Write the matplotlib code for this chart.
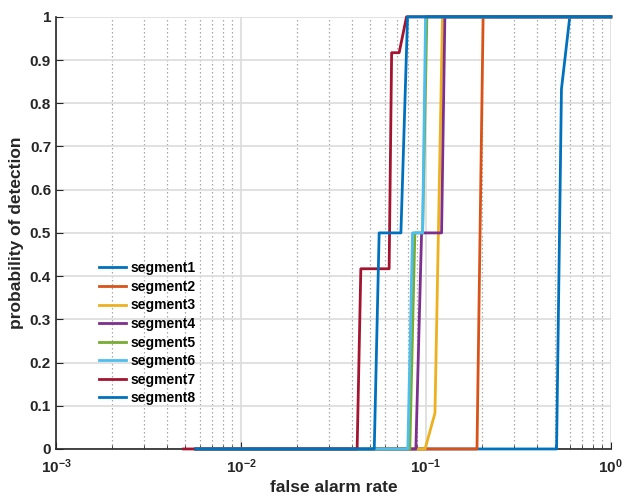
import matplotlib
matplotlib.use("Agg")
import matplotlib.pyplot as plt
from matplotlib.ticker import LogLocator, NullFormatter

plt.rcParams['font.family'] = ['Liberation Sans', 'DejaVu Sans']
plt.rcParams['font.weight'] = 'bold'

labels = ["segment1", "segment2", "segment3", "segment4",
          "segment5", "segment6", "segment7", "segment8"]
colors = ["#0072BD", "#D95319", "#EDB120", "#7E2F8E",
          "#77AC30", "#4DBEEE", "#A2142F", "#0072BD"]

seg1_x = [0.0057, 0.509, 0.541, 0.600, 1.0]
seg1_y = [0, 0, 0.833, 1, 1]
seg2_x = [0.0057, 0.189, 0.204, 1.0]
seg2_y = [0, 0, 1, 1]
seg3_x = [0.0057, 0.099, 0.112, 0.123, 1.0]
seg3_y = [0, 0, 0.083, 1, 1]
seg4_x = [0.0057, 0.0883, 0.0948, 0.1216, 0.1267, 1.0]
seg4_y = [0, 0, 0.5, 0.5, 1, 1]
seg5_x = [0.0057, 0.0819, 0.0872, 0.0960, 0.1013, 1.0]
seg5_y = [0, 0, 0.5, 0.5, 1, 1]
seg6_x = [0.0057, 0.0799, 0.0847, 0.0960, 0.0996, 1.0]
seg6_y = [0, 0, 0.5, 0.5, 1, 1]
seg7_x = [0.0049, 0.0425, 0.0445, 0.0633, 0.0653, 0.0717, 0.0786, 1.0]
seg7_y = [0, 0, 0.417, 0.417, 0.917, 0.917, 1, 1]
seg8_x = [0.0057, 0.0526, 0.0559, 0.0733, 0.0796, 1.0]
seg8_y = [0, 0, 0.5, 0.5, 1, 1]

xs = [seg1_x, seg2_x, seg3_x, seg4_x, seg5_x, seg6_x, seg7_x, seg8_x]
ys = [seg1_y, seg2_y, seg3_y, seg4_y, seg5_y, seg6_y, seg7_y, seg8_y]

y_ticks = [0, 0.1, 0.2, 0.3, 0.4, 0.5, 0.6, 0.7, 0.8, 0.9, 1]
y_ticklabels = ["0", "0.1", "0.2", "0.3", "0.4", "0.5", "0.6", "0.7", "0.8", "0.9", "1"]

fig = plt.figure(figsize=(6.22, 4.95), dpi=100)
ax = fig.add_axes([0.090, 0.093, 0.892, 0.873])

for x, y, c, l in zip(xs, ys, colors, labels):
    ax.plot(x, y, color=c, lw=2, label=l, clip_on=False, zorder=3)

ax.set_xscale('log')
ax.set_xlim(1e-3, 1)
ax.set_ylim(0, 1)
ax.set_yticks(y_ticks)
ax.set_yticklabels(y_ticklabels)
ax.xaxis.set_major_locator(LogLocator(base=10, numticks=10))
ax.xaxis.set_minor_locator(LogLocator(base=10, subs=range(2, 10), numticks=20))
ax.xaxis.set_minor_formatter(NullFormatter())

ax.grid(True, which='major', axis='both', color='#dcdcdc', lw=1.2, ls='-', zorder=0)
ax.grid(True, which='minor', axis='x', color='#a8a8a8', lw=0.9, ls=(0, (1.2, 2.0)), zorder=0)

for s in ['top', 'right']:
    ax.spines[s].set_visible(False)
for s in ['left', 'bottom']:
    ax.spines[s].set_color('#262626')
    ax.spines[s].set_linewidth(1.2)

ax.tick_params(which='both', direction='in', colors='#262626', labelsize=11)
ax.tick_params(which='major', length=5)
ax.tick_params(which='minor', length=3)
ax.tick_params(axis='x', pad=6)
for lab in ax.get_xticklabels() + ax.get_yticklabels():
    lab.set_fontweight('bold')

ax.set_xlabel("false alarm rate", fontsize=12.5, fontweight='bold', color='#262626', labelpad=3)
ax.set_ylabel("probability of detection", fontsize=12.5, fontweight='bold', color='#262626', labelpad=4)

leg = ax.legend(loc='lower left', bbox_to_anchor=(0.055, 0.072), frameon=False,
                prop={'weight': 'bold', 'size': 10}, handlelength=1.95,
                labelspacing=0.33, handletextpad=0.35)

fig.savefig("out.png", dpi=100)
